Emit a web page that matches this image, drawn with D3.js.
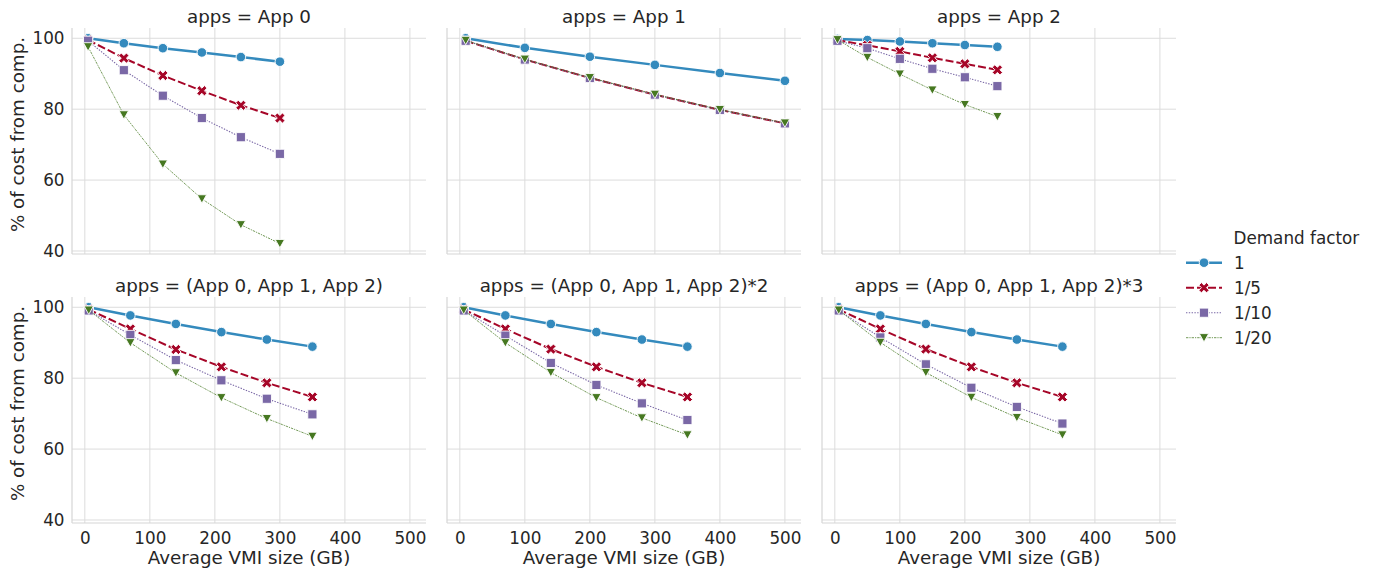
<!DOCTYPE html>
<html>
<head>
<meta charset="utf-8">
<script src="https://cdn.jsdelivr.net/npm/d3@7"></script>
<style>
  html, body { margin: 0; padding: 0; background: #ffffff; }
  svg text { font-family: "DejaVu Sans", sans-serif; fill: #262626; }
</style>
</head>
<body>
<svg id="chart" width="1376" height="574"></svg>
<script>
// ---------------- data ----------------
const demandFactors = ["1", "1/5", "1/10", "1/20"];
const panelTitles = [
  "apps = App 0", "apps = App 1", "apps = App 2",
  "apps = (App 0, App 1, App 2)", "apps = (App 0, App 1, App 2)*2", "apps = (App 0, App 1, App 2)*3"
];
const xTicks = [0, 100, 200, 300, 400, 500];
const yTicks = [40, 60, 80, 100];

// Average VMI size (GB) per panel
const xApp0 = [5, 60, 120, 180, 240, 300];
const xApp1 = [9, 100, 200, 300, 400, 500];
const xApp2 = [4, 50, 100, 150, 200, 250];
const xMix  = [6, 70, 140, 210, 280, 350];

// % of cost from comp. — one array per panel and demand factor
const app0_d1  = [100.0, 98.6, 97.2, 96.0, 94.7, 93.4];
const app0_d5  = [99.5, 94.4, 89.5, 85.2, 81.1, 77.5];
const app0_d10 = [99.3, 91.0, 83.8, 77.5, 72.1, 67.4];
const app0_d20 = [97.6, 78.4, 64.5, 54.7, 47.4, 42.1];

const app1_d1  = [100.0, 97.3, 94.8, 92.5, 90.2, 88.0];
const app1_d5  = [99.3, 94.0, 88.8, 84.1, 79.8, 76.0];
const app1_d10 = [99.3, 94.0, 88.8, 84.1, 79.8, 76.0];
const app1_d20 = [99.4, 94.1, 88.9, 84.2, 79.9, 76.1];

const app2_d1  = [99.8, 99.5, 99.1, 98.6, 98.1, 97.6];
const app2_d5  = [99.5, 98.0, 96.3, 94.5, 92.8, 91.1];
const app2_d10 = [99.3, 97.2, 94.2, 91.4, 89.0, 86.5];
const app2_d20 = [99.6, 94.6, 89.9, 85.4, 81.3, 77.9];

const mix1_d1  = [100.0, 97.7, 95.3, 93.0, 90.9, 88.9];
const mix1_d5  = [99.4, 93.9, 88.1, 83.2, 78.7, 74.7];
const mix1_d10 = [99.1, 92.2, 85.1, 79.4, 74.2, 69.8];
const mix1_d20 = [99.2, 90.0, 81.5, 74.5, 68.6, 63.6];

const mix2_d1  = [100.0, 97.7, 95.3, 93.0, 90.9, 88.9];
const mix2_d5  = [99.4, 93.9, 88.2, 83.2, 78.7, 74.7];
const mix2_d10 = [99.1, 92.0, 84.3, 78.1, 72.9, 68.2];
const mix2_d20 = [99.2, 90.0, 81.6, 74.5, 68.8, 64.0];

const mix3_d1  = [100.0, 97.7, 95.3, 93.0, 90.9, 88.9];
const mix3_d5  = [99.4, 93.9, 88.2, 83.2, 78.7, 74.7];
const mix3_d10 = [99.1, 91.5, 83.9, 77.3, 71.9, 67.2];
const mix3_d20 = [99.2, 90.1, 81.6, 74.6, 68.9, 64.0];

const panelX = [xApp0, xApp1, xApp2, xMix, xMix, xMix];
const panelY = [
  [app0_d1, app0_d5, app0_d10, app0_d20],
  [app1_d1, app1_d5, app1_d10, app1_d20],
  [app2_d1, app2_d5, app2_d10, app2_d20],
  [mix1_d1, mix1_d5, mix1_d10, mix1_d20],
  [mix2_d1, mix2_d5, mix2_d10, mix2_d20],
  [mix3_d1, mix3_d5, mix3_d10, mix3_d20]
];

// ---------------- styles ----------------
const colors = ["#348ABD", "#A60628", "#7A68A6", "#467821"];
const widths = [2.5, 2.0, 1.1, 0.75];
const dashes = [null, "8,3", "1.4,1.4", "2.4,1,1.2,1"];
const markerKinds = ["circle", "x", "square", "tri"];
const tickFont = "16.8px", labelFont = "18.3px";

function markerPath(kind) {
  if (kind === "circle") return d3.symbol(d3.symbolCircle, 72)();
  if (kind === "square") return d3.symbol(d3.symbolSquare, 84)();
  if (kind === "x") return d3.symbol(d3.symbolCross, 66)();
  // downward triangle
  return "M-4.7,-4.1L4.7,-4.1L0,4.3Z";
}

// ---------------- layout ----------------
const svg = d3.select("#chart");
const panelW = 354, panelH = 226;
const colLeft = [72, 447, 822];
const rowTop = [28, 297];

const x = d3.scaleLinear().domain([-19.75, 524.75]).range([0, panelW]);
const y = d3.scaleLinear().domain([39.15, 102.9]).range([panelH, 0]);

const line = d3.line().x(d => x(d[0])).y(d => y(d[1]));

panelTitles.forEach((title, i) => {
  const r = Math.floor(i / 3), c = i % 3;
  const g = svg.append("g").attr("transform", `translate(${colLeft[c]},${rowTop[r]})`);

  // grid
  g.selectAll("line.vg").data(xTicks).join("line")
    .attr("x1", d => x(d)).attr("x2", d => x(d)).attr("y1", 0).attr("y2", panelH)
    .attr("stroke", "#dcdcdc").attr("stroke-width", 1);
  g.selectAll("line.hg").data(yTicks).join("line")
    .attr("x1", 0).attr("x2", panelW).attr("y1", d => y(d)).attr("y2", d => y(d))
    .attr("stroke", "#dcdcdc").attr("stroke-width", 1);

  // spines (left + bottom)
  g.append("line").attr("x1", 0).attr("x2", 0).attr("y1", 0).attr("y2", panelH)
    .attr("stroke", "#d6d6d6").attr("stroke-width", 1.2);
  g.append("line").attr("x1", 0).attr("x2", panelW).attr("y1", panelH).attr("y2", panelH)
    .attr("stroke", "#d6d6d6").attr("stroke-width", 1.2);

  // axes labels
  if (c === 0) {
    const ya = d3.axisLeft(y).tickValues(yTicks).tickSize(0).tickPadding(7.5);
    const ag = g.append("g").call(ya);
    ag.select(".domain").remove();
    ag.selectAll("text").style("font-size", tickFont).style("font-family", "DejaVu Sans").attr("fill", "#262626");
    g.append("text")
      .attr("transform", `translate(-48.5,${panelH / 2 - 6.5}) rotate(-90)`)
      .attr("text-anchor", "middle")
      .style("font-size", labelFont)
      .text("% of cost from comp.");
  }
  if (r === 1) {
    const xa = d3.axisBottom(x).tickValues(xTicks).tickSize(0).tickPadding(9);
    const ag = g.append("g").attr("transform", `translate(0,${panelH})`).call(xa);
    ag.select(".domain").remove();
    ag.selectAll("text").style("font-size", tickFont).style("font-family", "DejaVu Sans").attr("fill", "#262626");
    g.append("text")
      .attr("x", panelW / 2).attr("y", panelH + 41)
      .attr("text-anchor", "middle")
      .style("font-size", labelFont)
      .text("Average VMI size (GB)");
  }

  // title
  g.append("text")
    .attr("x", panelW / 2).attr("y", -5.5)
    .attr("text-anchor", "middle")
    .style("font-size", labelFont)
    .text(title);

  // series
  const xs = panelX[i];
  panelY[i].forEach((vals, s) => {
    const pts = vals.map((v, k) => [xs[k], v]);
    g.append("path").datum(pts)
      .attr("d", line)
      .attr("fill", "none")
      .attr("stroke", colors[s])
      .attr("stroke-width", widths[s])
      .attr("stroke-dasharray", dashes[s]);
    g.selectAll(null).data(pts).join("path")
      .attr("d", markerPath(markerKinds[s]))
      .attr("transform", d => `translate(${x(d[0])},${y(d[1])})` + (markerKinds[s] === "x" ? " rotate(45)" : ""))
      .attr("fill", colors[s])
      .attr("stroke", "#ffffff")
      .attr("stroke-width", 0.9);
  });
});

// ---------------- legend ----------------
const lg = svg.append("g");
lg.append("text").attr("x", 1233.5).attr("y", 244).style("font-size", tickFont).text("Demand factor");
demandFactors.forEach((lab, s) => {
  const cy = 262.7 + s * 25;
  lg.append("line").attr("x1", 1186).attr("x2", 1222).attr("y1", cy).attr("y2", cy)
    .attr("stroke", colors[s]).attr("stroke-width", widths[s]).attr("stroke-dasharray", dashes[s]);
  lg.append("path").attr("d", markerPath(markerKinds[s]))
    .attr("transform", `translate(1204,${cy})` + (markerKinds[s] === "x" ? " rotate(45)" : ""))
    .attr("fill", colors[s]).attr("stroke", "#ffffff").attr("stroke-width", 0.9);
  lg.append("text").attr("x", 1234).attr("y", cy + 6.3).style("font-size", tickFont).text(lab);
});
</script>
</body>
</html>
